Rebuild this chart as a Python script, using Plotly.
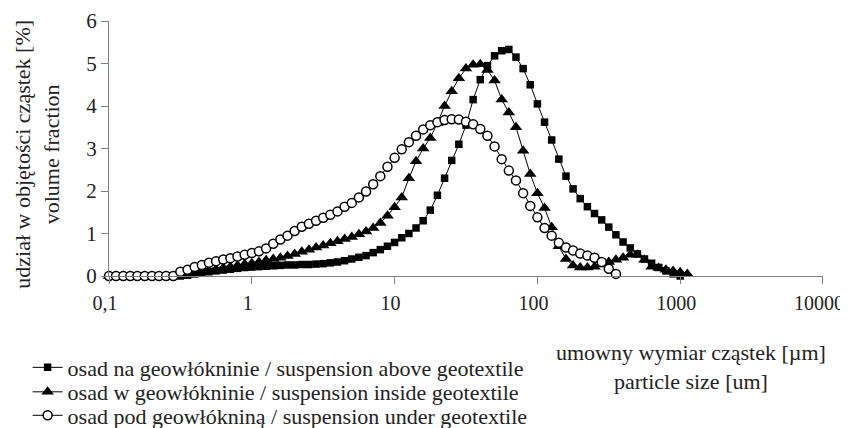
import plotly.graph_objects as go

# particle size classes [um] (log-spaced bins)
sizes = [0.1, 0.112, 0.126, 0.141, 0.158, 0.178, 0.2, 0.224, 0.251, 0.282,
         0.316, 0.355, 0.398, 0.447, 0.501, 0.562, 0.631, 0.708, 0.794, 0.891,
         1.0, 1.122, 1.259, 1.413, 1.585, 1.778, 1.995, 2.239, 2.512, 2.818,
         3.162, 3.548, 3.981, 4.467, 5.012, 5.623, 6.31, 7.079, 7.943, 8.913,
         10.0, 11.22, 12.59, 14.13, 15.85, 17.78, 19.95, 22.39, 25.12, 28.18,
         31.62, 35.48, 39.81, 44.67, 50.12, 56.23, 63.1, 70.79, 79.43, 89.13,
         100.0, 112.2, 125.9, 141.3, 158.5, 177.8, 199.5, 223.9, 251.2, 281.8,
         316.2, 354.8, 398.1, 446.7, 501.2, 562.3, 631.0, 707.9, 794.3, 891.3,
         1000.0, 1122.0, 1259.0]

# osad na geowłókninie / suspension above geotextile
above = [0, 0, 0, 0, 0, 0, 0, 0, 0, 0,
         0, 0.02, 0.05, 0.08, 0.1, 0.12, 0.14, 0.16, 0.18, 0.2,
         0.21, 0.22, 0.23, 0.24, 0.25, 0.26, 0.26, 0.27, 0.27, 0.28,
         0.29, 0.31, 0.33, 0.36, 0.4, 0.44, 0.48, 0.55, 0.62, 0.7,
         0.79, 0.9, 1.0, 1.13, 1.3, 1.55, 1.9, 2.3, 2.72, 3.1,
         3.55, 4.15, 4.62, 4.95, 5.18, 5.3, 5.33, 5.15, 4.88, 4.5,
         4.05, 3.62, 3.2, 2.75, 2.35, 2.05, 1.82, 1.63, 1.47, 1.32,
         1.15, 0.97, 0.8, 0.66, 0.52, 0.4, 0.3, 0.2, 0.12, 0.05,
         0.0]

# osad w geowłókninie / suspension inside geotextile
inside = [0, 0, 0, 0, 0, 0, 0, 0, 0, 0,
          0, 0.03, 0.07, 0.1, 0.13, 0.16, 0.19, 0.22, 0.25, 0.28,
          0.3, 0.33, 0.37, 0.4, 0.43, 0.47, 0.52, 0.57, 0.62, 0.67,
          0.72, 0.77, 0.82, 0.87, 0.92, 0.98, 1.05, 1.13, 1.25, 1.42,
          1.62, 1.85, 2.3, 2.7, 3.0, 3.25, 3.6, 4.0, 4.35, 4.65,
          4.88, 4.97, 4.98, 4.85, 4.6, 4.15, 3.85, 3.5, 2.95, 2.4,
          1.95, 1.6, 1.15, 0.7, 0.4, 0.25, 0.2, 0.2, 0.22, 0.27,
          0.33, 0.38, 0.43, 0.5, 0.5, 0.38, 0.22, 0.19, 0.15, 0.12,
          0.09, 0.05]

# osad pod geowłókniną / suspension under geotextile
under = [0, 0, 0, 0, 0, 0, 0, 0, 0, 0,
         0.1, 0.15, 0.21, 0.26, 0.31, 0.35, 0.39, 0.42, 0.46, 0.5,
         0.54, 0.58, 0.65, 0.76, 0.86, 0.95, 1.06, 1.16, 1.23, 1.3,
         1.37, 1.44, 1.52, 1.63, 1.72, 1.85, 1.99, 2.16, 2.35, 2.57,
         2.78, 2.98, 3.15, 3.3, 3.45, 3.55, 3.62, 3.67, 3.69, 3.68,
         3.63, 3.57, 3.46, 3.3, 3.05, 2.75, 2.48, 2.25, 1.95, 1.65,
         1.38, 1.13, 0.95, 0.78, 0.67, 0.6, 0.53, 0.48, 0.43, 0.33,
         0.17, 0.05]

names = ["osad na geowłókninie / suspension above geotextile",
         "osad w geowłókninie / suspension inside geotextile",
         "osad pod geowłókniną / suspension under geotextile"]

xticks = [0.1, 1, 10, 100, 1000, 10000]
xticklabels = ["0,1", "1", "10", "100", "1000", "10000"]
yticks = [0, 1, 2, 3, 4, 5, 6]

FONT = "Liberation Serif, Times New Roman, serif"
TXT = "#222222"
AX = "#808080"

fig = go.Figure()
fig.add_trace(go.Scatter(
    x=sizes[:len(above)], y=above, name=names[0], mode="lines+markers",
    line=dict(color="black", width=1),
    marker=dict(symbol="square", size=7.5, color="black"),
    cliponaxis=False, legend="legend"))
fig.add_trace(go.Scatter(
    x=sizes[:len(inside)], y=inside, name=names[1], mode="lines+markers",
    line=dict(color="black", width=1),
    marker=dict(symbol="triangle-up", size=11, color="black"),
    cliponaxis=False, legend="legend2"))
fig.add_trace(go.Scatter(
    x=sizes[:len(under)], y=under, name=names[2], mode="lines+markers",
    line=dict(color="black", width=1),
    marker=dict(symbol="circle", size=9, color="white",
                line=dict(color="black", width=1.5)),
    cliponaxis=False, legend="legend3"))

leg = dict(x=-0.114, xanchor="left", yanchor="middle",
           font=dict(family=FONT, size=22, color=TXT),
           bgcolor="rgba(0,0,0,0)", itemclick=False)

# the page body adds an 8 px offset; plot area placed accordingly
fig.update_layout(
    width=848, height=428,
    margin=dict(l=101, r=33, t=13, b=160, autoexpand=False),
    paper_bgcolor="white", plot_bgcolor="white",
    font=dict(family=FONT, size=21, color=TXT),
    showlegend=True,
    legend=dict(leg, y=-0.359),
    legend2=dict(leg, y=-0.455),
    legend3=dict(leg, y=-0.547),
    xaxis=dict(type="log", range=[-1.0001, 4.0001], tickvals=xticks,
               ticktext=xticklabels,
               showgrid=False, zeroline=False,
               showline=True, linecolor=AX, linewidth=1,
               ticks="outside", ticklen=7, tickcolor=AX,
               ticklabelstandoff=2, ticklabelshift=-4,
               ticklabeloverflow="allow",
               tickfont=dict(family=FONT, size=20, color=TXT)),
    yaxis=dict(range=[0, 6], tickvals=yticks, showgrid=False,
               zeroline=False, showline=True, linecolor=AX, linewidth=1,
               ticks="outside", ticklen=7, tickcolor=AX,
               tickfont=dict(family=FONT, size=21, color=TXT)),
    annotations=[
        dict(text="udział w objętości cząstek [%]<br>volume fraction",
             xref="paper", yref="paper", x=-0.1, y=0.478,
             xanchor="center", yanchor="middle", textangle=-90,
             showarrow=False, font=dict(family=FONT, size=22, color=TXT)),
        dict(text="umowny wymiar cząstek [µm]<br>particle size [um]",
             xref="paper", yref="paper", x=0.8147, y=-0.358,
             xanchor="center", yanchor="middle", showarrow=False,
             font=dict(family=FONT, size=22, color=TXT)),
    ],
)

fig.write_html("out.html")
